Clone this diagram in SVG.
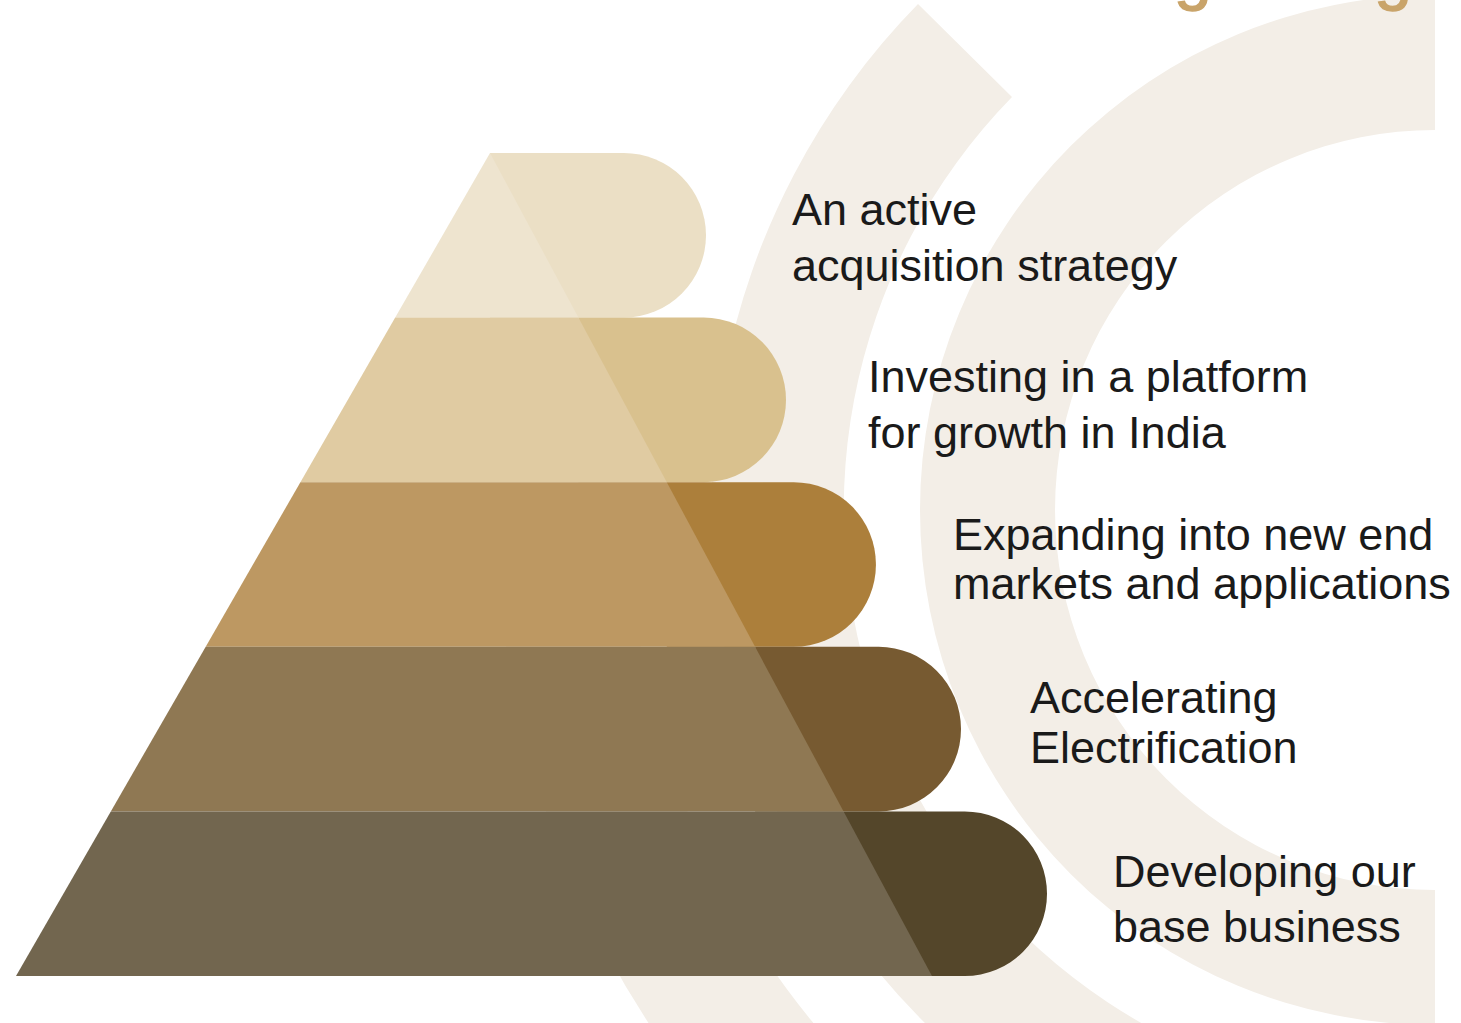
<svg xmlns="http://www.w3.org/2000/svg" width="1461" height="1023" viewBox="0 0 1461 1023">
  <defs>
    <style>
      .band { fill: #F3EEE7; }
      .label { font-family: "Liberation Sans", Arial, sans-serif; font-size: 45px; fill: #1A1A1A; }
      .heading { font-family: "Liberation Sans", Arial, sans-serif; font-size: 68px; fill: #C9A46A; stroke: #C9A46A; stroke-width: 1.4px; }
      .t1 { fill: #EEE4CF; } .p1 { fill: #EBDFC5; }
      .t2 { fill: #E0CBA2; } .p2 { fill: #D9C18E; }
      .t3 { fill: #BD9862; } .p3 { fill: #AC7F3B; }
      .t4 { fill: #8F7853; } .p4 { fill: #775A31; }
      .t5 { fill: #72664F; } .p5 { fill: #54462A; }
    </style>
    <clipPath id="page">
      <rect x="0" y="0" width="1435" height="1023"/>
    </clipPath>
  </defs>

  <rect width="1461" height="1023" fill="#FFFFFF"/>

  <!-- concentric background arcs, centred at (1435,510) -->
  <g id="background" clip-path="url(#page)">
    <path class="band" d="M1435,-5 A515,515 0 0 0 920,510 A515,515 0 0 0 1435,1025 L1435,890 A380,380 0 0 1 1055,510 A380,380 0 0 1 1435,130 Z"/>
    <path class="band" d="M918,4 A723,723 0 0 0 1435,1233 L1435,1101 A591,591 0 0 1 1012,97 Z"/>
    <path class="band" d="M496,510 A939,939 0 0 0 1435,1449 L1435,1316 A806,806 0 0 1 629,510 Z"/>
  </g>

  <!-- heading running off the top edge -->
  <text class="heading" x="1174" y="-3">growing</text>

  <!-- pyramid tiers: rounded tab behind, trapezoid in front -->
  <g id="tier-1">
    <path class="p1" d="M490,153 H623.7 A82.3,82.3 0 0 1 623.7,317.6 H490 Z"/>
    <path class="t1" d="M490,153 L578.4,317.6 L395.2,317.6 Z"/>
    <text class="label" x="792" y="225">An active</text>
    <text class="label" x="792" y="281">acquisition strategy</text>
  </g>

  <g id="tier-2">
    <path class="p2" d="M578.4,317.6 H703.7 A82.3,82.3 0 0 1 703.7,482.2 H578.4 Z"/>
    <path class="t2" d="M395.2,317.6 L578.4,317.6 L666.8,482.2 L300.4,482.2 Z"/>
    <text class="label" x="868" y="392">Investing in a platform</text>
    <text class="label" x="868" y="448">for growth in India</text>
  </g>

  <g id="tier-3">
    <path class="p3" d="M666.8,482.2 H793.7 A82.3,82.3 0 0 1 793.7,646.8 H666.8 Z"/>
    <path class="t3" d="M300.4,482.2 L666.8,482.2 L755.1,646.8 L205.7,646.8 Z"/>
    <text class="label" x="953" y="550">Expanding into new end</text>
    <text class="label" x="953" y="599">markets and applications</text>
  </g>

  <g id="tier-4">
    <path class="p4" d="M755.1,646.8 H878.7 A82.3,82.3 0 0 1 878.7,811.4 H755.1 Z"/>
    <path class="t4" d="M205.7,646.8 L755.1,646.8 L843.6,811.4 L110.8,811.4 Z"/>
    <text class="label" x="1030" y="713">Accelerating</text>
    <text class="label" x="1030" y="763">Electrification</text>
  </g>

  <g id="tier-5">
    <path class="p5" d="M843.6,811.4 H964.7 A82.3,82.3 0 0 1 964.7,976 H843.6 Z"/>
    <path class="t5" d="M110.8,811.4 L843.6,811.4 L932,976 L16,976 Z"/>
    <text class="label" x="1113" y="887">Developing our</text>
    <text class="label" x="1113" y="942">base business</text>
  </g>
</svg>
